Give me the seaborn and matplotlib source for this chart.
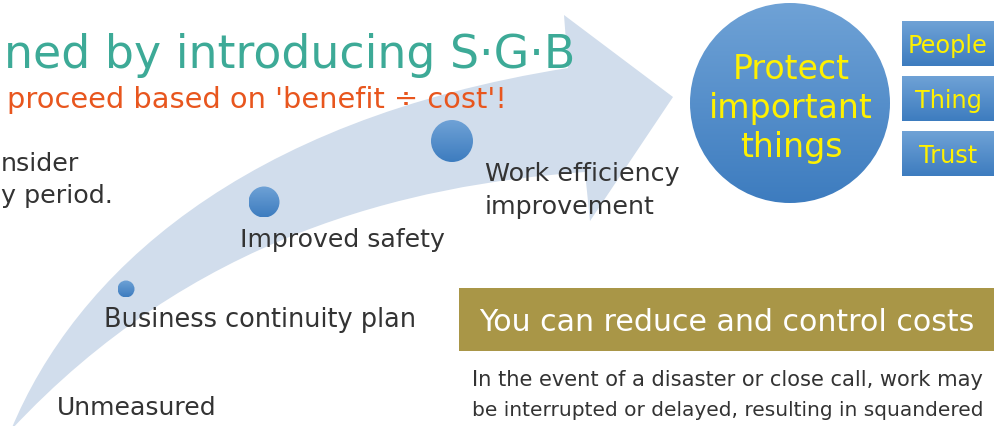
import numpy as np
import matplotlib
matplotlib.use("Agg")
import matplotlib.pyplot as plt
import seaborn as sns
from matplotlib.path import Path
from matplotlib.patches import PathPatch, Circle, Rectangle

# ---------------------------------------------------------------
# Data (pixel space, y grows downward)
# ---------------------------------------------------------------

step_labels = ["Unmeasured", "Business continuity plan", "Improved safety",
               "Work efficiency\nimprovement"]
dot_x = [126, 264, 452]
dot_y = [289, 202, 141]
dot_r = [8.5, 15.5, 21]

goal_text = "Protect\nimportant\nthings"
benefit_labels = ["People", "Thing", "Trust"]

title_text = "ned by introducing S\u00b7G\u00b7B"
subtitle_text = "proceed based on 'benefit \u00f7 cost'!"
side_lines = ["nsider", "y period."]
cost_header = "You can reduce and control costs"
cost_lines = ["In the event of a disaster or close call, work may",
              "be interrupted or delayed, resulting in squandered"]

# ---------------------------------------------------------------
# Styling
# ---------------------------------------------------------------

sns.set_theme(style="white")
plt.rcParams["font.family"] = ["DejaVu Sans"]

dark = "#333333"
teal = "#3DAA97"
orange = "#E8561E"
olive = "#A99647"
yellow = "#FFF100"
band = "#D1DDEC"
blue_cmap = sns.blend_palette(["#6FA2D6", "#3D7CBF"], as_cmap=True)

fig = plt.figure(figsize=(9.94, 4.26), dpi=100)
ax = fig.add_axes([0, 0, 1, 1])
ax.set_xlim(0, 994)
ax.set_ylim(426, 0)
renderer = fig.canvas.get_renderer()


def gradient_fill(patch, x0, x1, y0, y1, z):
    patch.set_facecolor("none")
    patch.set_edgecolor("none")
    ax.add_patch(patch)
    grad = np.linspace(0, 1, 256).reshape(-1, 1)
    im = ax.imshow(grad, cmap=blue_cmap, extent=(x0, x1, y1, y0),
                   origin="upper", aspect="auto", zorder=z,
                   interpolation="bilinear")
    im.set_clip_path(patch)


def fit(t, width):
    # scale the font so the text spans the width seen in the picture
    w = t.get_window_extent(renderer).width
    t.set_fontsize(t.get_fontsize() * width / w)
    return t.get_fontsize()


# Big curved arrow

verts = [(11, 430), (75, 275), (240, 120), (568, 68),
         (564, 15), (673, 97), (590, 221), (585, 172),
         (405, 185), (191, 237), (11, 430), (11, 430)]
codes = [Path.MOVETO, Path.CURVE4, Path.CURVE4, Path.CURVE4,
         Path.LINETO, Path.LINETO, Path.LINETO, Path.LINETO,
         Path.CURVE4, Path.CURVE4, Path.CURVE4, Path.CLOSEPOLY]
ax.add_patch(PathPatch(Path(verts, codes), facecolor=band, edgecolor="none", zorder=1))

# Milestone dots

for x, y, r in zip(dot_x, dot_y, dot_r):
    gradient_fill(Circle((x, y), r), x - r, x + r, y - r, y + r, 3)

# Milestone labels (baseline of the last line)

step_pos = [(57, 415), (104, 327), (240, 247), (485, 214)]
step_width = [160, 314, 205, 195]
body = []
for (x, y), lab, w in zip(step_pos, step_labels, step_width):
    t = ax.text(x, y, lab, fontsize=17, color=dark, ha="left", va="baseline",
                linespacing=1.5, zorder=4)
    body.append(fit(t, w))
body_fs = float(np.mean(body))

# Headline texts (cut off at the left edge)

fit(ax.text(575, 68, title_text, fontsize=29, color=teal, ha="right",
            va="baseline", zorder=4), 570)
fit(ax.text(507, 108, subtitle_text, fontsize=19.5, color=orange, ha="right",
            va="baseline", zorder=4), 502)
ax.text(1, 171, side_lines[0], fontsize=body_fs, color=dark, ha="left", va="baseline", zorder=4)
ax.text(1, 203, side_lines[1], fontsize=body_fs, color=dark, ha="left", va="baseline", zorder=4)

# Goal circle

gradient_fill(Circle((790, 103), 100), 690, 890, 3, 203, 3)
goal = [ax.text(791, y, line, fontsize=24, color=yellow, ha="center",
                va="baseline", zorder=5)
        for y, line in zip([79, 118, 157], goal_text.split("\n"))]
goal_fs = fit(goal[1], 164)
for t in goal:
    t.set_fontsize(goal_fs)

# Benefit boxes

box_top = [21, 76, 131]
boxes = []
for top, lab in zip(box_top, benefit_labels):
    gradient_fill(Rectangle((902, top), 100, 45), 902, 1002, top, top + 45, 3)
    boxes.append(ax.text(948, top + 32, lab, fontsize=16, color=yellow,
                         ha="center", va="baseline", zorder=5))
box_fs = fit(boxes[0], 80)
for t in boxes:
    t.set_fontsize(box_fs)

# Cost box

ax.add_patch(Rectangle((459, 288), 540, 63, facecolor=olive, edgecolor="none", zorder=3))
fit(ax.text(479, 331, cost_header, fontsize=21, color="white", ha="left",
            va="baseline", zorder=4), 496)
for y, line in zip([386, 416], cost_lines):
    fit(ax.text(472, y, line, fontsize=14, color=dark, ha="left",
                va="baseline", zorder=4), 513)

ax.set_xlim(0, 994)
ax.set_ylim(426, 0)
ax.axis("off")

fig.savefig("out.png", dpi=100, facecolor="white")
